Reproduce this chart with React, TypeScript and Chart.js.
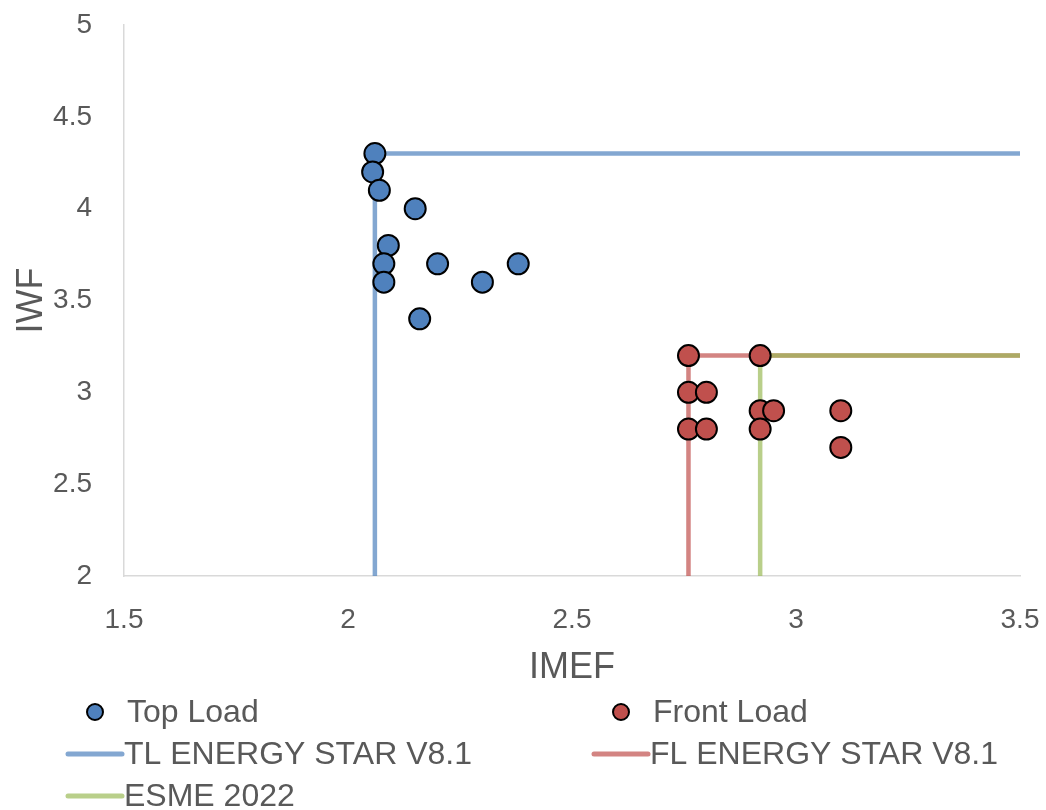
import React, { useEffect, useRef } from "react";
import { Chart, registerables } from "chart.js";

Chart.register(...registerables);

// Measured washers: IMEF (x) vs IWF (y)
const topLoadImef = [2.06, 2.055, 2.07, 2.15, 2.09, 2.08, 2.08, 2.2, 2.3, 2.38, 2.16];
const topLoadIwf = [4.3, 4.2, 4.1, 4.0, 3.8, 3.7, 3.6, 3.7, 3.6, 3.7, 3.4];

const frontLoadImef = [2.76, 2.92, 2.76, 2.8, 2.76, 2.8, 2.92, 2.95, 2.92, 3.1, 3.1];
const frontLoadIwf = [3.2, 3.2, 3.0, 3.0, 2.8, 2.8, 2.9, 2.9, 2.8, 2.9, 2.7];

// Qualification thresholds: minimum IMEF and maximum IWF
const tlStarImef = 2.06;
const tlStarIwf = 4.3;
const flStarImef = 2.76;
const flStarIwf = 3.2;
const esmeImef = 2.92;
const esmeIwf = 3.2;

const xMin = 1.5;
const xMax = 3.5;
const yMin = 2;
const yMax = 5;

const seriesNames = [
  "Top Load",
  "Front Load",
  "TL ENERGY STAR V8.1",
  "FL ENERGY STAR V8.1",
  "ESME 2022",
];

const BLUE = "rgb(79,129,189)";
const RED = "rgb(192,80,77)";
const BLUE_LINE = "rgba(79,129,189,0.7)";
const RED_LINE = "rgba(192,80,77,0.7)";
const GREEN_LINE = "rgba(155,187,89,0.7)";
const TEXT = "#595959";
const FONT = "'Liberation Sans', Arial, sans-serif";

const points = (xs: number[], ys: number[]) => xs.map((x, i) => ({ x, y: ys[i] }));
const corner = (x: number, y: number) => [
  { x, y: yMin },
  { x, y },
  { x: xMax, y },
];
const plainNumber = (v: any) => String(+Number(v).toFixed(2));

// Two-column legend drawn under the axis
const legendPlugin = {
  id: "gridLegend",
  afterDraw(chart: any) {
    const ctx = chart.ctx;
    const items = [
      { kind: "point", color: BLUE, col: 0, row: 0 },
      { kind: "point", color: RED, col: 1, row: 0 },
      { kind: "line", color: BLUE_LINE, col: 0, row: 1 },
      { kind: "line", color: RED_LINE, col: 1, row: 1 },
      { kind: "line", color: GREEN_LINE, col: 0, row: 2 },
    ];
    const colX = [95, 621];
    const rowY = [712, 754, 796];
    ctx.save();
    ctx.font = `32px ${FONT}`;
    ctx.textBaseline = "middle";
    ctx.textAlign = "left";
    items.forEach((it, i) => {
      const cx = colX[it.col];
      const cy = rowY[it.row];
      if (it.kind === "point") {
        ctx.beginPath();
        ctx.arc(cx, cy, 8, 0, Math.PI * 2);
        ctx.fillStyle = it.color;
        ctx.fill();
        ctx.lineWidth = 2;
        ctx.strokeStyle = "#000";
        ctx.stroke();
      } else {
        ctx.beginPath();
        ctx.moveTo(cx - 27, cy);
        ctx.lineTo(cx + 27, cy);
        ctx.lineWidth = 5;
        ctx.lineCap = "round";
        ctx.strokeStyle = it.color;
        ctx.stroke();
      }
      ctx.fillStyle = TEXT;
      ctx.fillText(seriesNames[i], cx + (it.kind === "point" ? 32 : 29), cy + 1);
    });
    ctx.restore();
  },
};

export default function App() {
  const canvasRef = useRef<HTMLCanvasElement | null>(null);

  useEffect(() => {
    if (!canvasRef.current) return;
    const chart = new Chart(canvasRef.current, {
      type: "scatter",
      data: {
        datasets: [
          {
            label: seriesNames[0],
            data: points(topLoadImef, topLoadIwf),
            backgroundColor: BLUE,
            borderColor: "#000",
            borderWidth: 2,
            pointRadius: 10.5,
            order: 0,
          },
          {
            label: seriesNames[1],
            data: points(frontLoadImef, frontLoadIwf),
            backgroundColor: RED,
            borderColor: "#000",
            borderWidth: 2,
            pointRadius: 10.5,
            order: 0,
          },
          {
            label: seriesNames[2],
            data: corner(tlStarImef, tlStarIwf),
            showLine: true,
            borderColor: BLUE_LINE,
            borderWidth: 4.5,
            pointRadius: 0,
            order: 3,
          },
          {
            label: seriesNames[3],
            data: corner(flStarImef, flStarIwf),
            showLine: true,
            borderColor: RED_LINE,
            borderWidth: 4.5,
            pointRadius: 0,
            order: 2,
          },
          {
            label: seriesNames[4],
            data: corner(esmeImef, esmeIwf),
            showLine: true,
            borderColor: GREEN_LINE,
            borderWidth: 4.5,
            pointRadius: 0,
            order: 1,
          },
        ],
      },
      options: {
        responsive: false,
        animation: false,
        layout: { padding: { left: 0, right: 26, top: 25, bottom: 120 } },
        plugins: {
          legend: { display: false },
          tooltip: { enabled: false },
        },
        scales: {
          x: {
            type: "linear",
            min: xMin,
            max: xMax,
            ticks: {
              stepSize: 0.5,
              color: TEXT,
              font: { family: FONT, size: 28 },
              padding: 27,
              callback: plainNumber,
            },
            grid: { display: false, drawTicks: false },
            border: { display: true, color: "#d9d9d9", width: 1.5 },
            title: {
              display: true,
              text: "IMEF",
              color: TEXT,
              font: { family: FONT, size: 36 },
              padding: { top: 0, bottom: 0 },
            },
            afterFit: (scale: any) => {
              scale.height = 114;
              scale.paddingLeft = 0;
              scale.paddingRight = 0;
            },
          },
          y: {
            type: "linear",
            min: yMin,
            max: yMax,
            ticks: {
              stepSize: 0.5,
              color: TEXT,
              font: { family: FONT, size: 28 },
              padding: 32,
              callback: plainNumber,
            },
            grid: { display: false, drawTicks: false },
            border: { display: true, color: "#d9d9d9", width: 1.5 },
            title: {
              display: true,
              text: "IWF",
              color: TEXT,
              font: { family: FONT, size: 36 },
              padding: { top: 10, bottom: 0 },
            },
            afterFit: (scale: any) => {
              scale.width = 124;
              scale.paddingTop = 0;
              scale.paddingBottom = 0;
            },
          },
        },
      },
      plugins: [legendPlugin],
    });
    return () => chart.destroy();
  }, []);

  return (
    <div style={{ position: "absolute", left: 0, top: 0, width: 1046, height: 810, background: "#fff" }}>
      <canvas ref={canvasRef} width={1046} height={810} style={{ display: "block" }} />
    </div>
  );
}
